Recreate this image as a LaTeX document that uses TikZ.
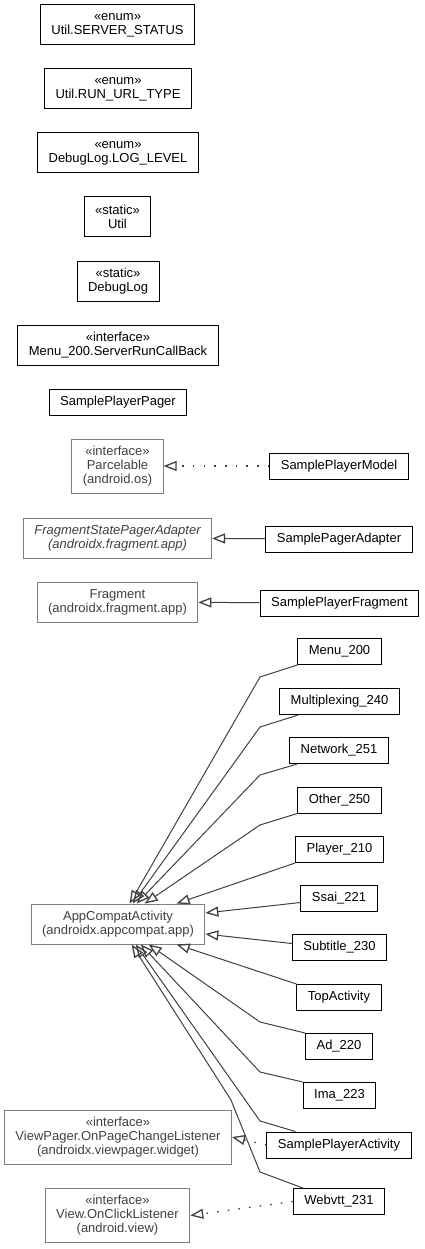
\documentclass[tikz,border=0pt]{standalone}
\usepackage{fontspec}
\setmainfont{Liberation Sans}
\usetikzlibrary{arrows.meta}

\definecolor{extline}{HTML}{808080}
\definecolor{exttext}{HTML}{404040}
\definecolor{edge}{HTML}{404040}

\tikzset{
	cls/.style = {draw, line width = 1pt, align = center, inner xsep = 11pt, inner ysep = 0pt,
		font = \fontsize{13}{14}\selectfont},
	ext/.style = {cls, draw = extline, text = exttext, line width = 0.9pt},
	one/.style = {minimum height = 26pt},
	two/.style = {minimum height = 40pt},
	three/.style = {minimum height = 54pt},
	inherit/.style = {-{Triangle[open,length=13pt,width=10pt,line width=1.3pt]}, draw = edge, line width = 1pt},
	realize/.style = {inherit, line width = 1.3pt, dash pattern = on 1.6pt off 9.1pt},
}

\begin{document}
\begin{tikzpicture}[x = 1pt, y = -1pt]
		\useasboundingbox (0,0) rectangle (424,1249);
		% left column
		\node[cls,two] (sstat) at (117.5, 25){«enum»\\Util.SERVER\_STATUS};
		\node[cls,two] (rtype) at (118, 89){«enum»\\Util.RUN\_URL\_TYPE};
		\node[cls,two] (llevel) at (118, 153){«enum»\\DebugLog.LOG\_LEVEL};
		\node[cls,two] (util) at (117.5, 217){«static»\\Util};
		\node[cls,two] (dlog) at (118, 281){«static»\\DebugLog};
		\node[cls,two] (srcb) at (118, 345){«interface»\\Menu\_200.ServerRunCallBack};
		\node[cls,one] (pager) at (118, 402){SamplePlayerPager};
		\node[ext,three] (parc) at (117.5, 466){«interface»\\Parcelable\\(android.os)};
		\node[ext,two,font = \fontsize{13}{14}\selectfont\itshape] (fspa) at (117.5, 538){FragmentStatePagerAdapter\\(androidx.fragment.app)};
		\node[ext,two] (frag) at (117.5, 602){Fragment\\(androidx.fragment.app)};
		\node[ext,two] (app) at (118, 924){AppCompatActivity\\(androidx.appcompat.app)};
		\node[ext,three] (vpl) at (118, 1137){«interface»\\ViewPager.OnPageChangeListener\\(androidx.viewpager.widget)};
		\node[ext,three] (ocl) at (117.5, 1215.5){«interface»\\View.OnClickListener\\(android.view)};
		% right column
		\node[cls,one] (model) at (339, 466){SamplePlayerModel};
		\node[cls,one] (padapter) at (339, 539){SamplePagerAdapter};
		\node[cls,one] (pfrag) at (339.5, 603){SamplePlayerFragment};
		\node[cls,one] (menu) at (339.5, 651.5){Menu\_200};
		\node[cls,one] (mult) at (339.5, 701.5){Multiplexing\_240};
		\node[cls,one] (net) at (339, 750.5){Network\_251};
		\node[cls,one] (other) at (339.5, 800){Other\_250};
		\node[cls,one] (player) at (339.5, 849.5){Player\_210};
		\node[cls,one] (ssai) at (339, 898.5){Ssai\_221};
		\node[cls,one] (sub) at (339.5, 947.5){Subtitle\_230};
		\node[cls,one] (top) at (339, 997.5){TopActivity};
		\node[cls,one] (ad) at (339, 1046.5){Ad\_220};
		\node[cls,one] (ima) at (339.5, 1095.5){Ima\_223};
		\node[cls,one] (spa) at (339, 1145){SamplePlayerActivity};
		\node[cls,one] (web) at (339, 1201.5){Webvtt\_231};

		\draw[realize] (model) -- (parc);
		\draw[inherit] (padapter) -- (fspa);
		\draw[inherit] (pfrag) -- (frag);
		\draw[realize] (spa.west) -- (vpl.east);
		\draw[realize] (web.west) -- (ocl.east);

		% subclasses of AppCompatActivity
		\draw[inherit] (menu.south west) -- (260,677) -- ([xshift=99pt]app.north west);
		\draw[inherit] ([xshift=19pt]mult.south west) -- (260,727) -- ([xshift=102pt]app.north west);
		\draw[inherit] ([xshift=8pt]net.south west) -- (260,775) -- ([xshift=106pt]app.north west);
		\draw[inherit] (other.south west) -- (260,825) -- ([xshift=114pt]app.north west);
		\draw[inherit] (player.south west) -- ([xshift=146pt]app.north west);
		\draw[inherit] ([yshift=-4pt]ssai.west) -- ([yshift=11pt]app.east);
		\draw[inherit] ([yshift=4pt]sub.west) -- ([yshift=-10pt]app.east);
		\draw[inherit] (top.north west) -- ([xshift=146pt]app.south west);
		\draw[inherit] (ad.north west) -- (260,1022) -- ([xshift=118pt]app.south west);
		\draw[inherit] (ima.north west) -- (260,1072) -- ([xshift=110pt]app.south west);
		\draw[inherit] ([xshift=29pt]spa.north west) -- (260,1121) -- ([xshift=105pt]app.south west);
		\draw[inherit] ([xshift=10pt]web.north west) -- (260,1172) -- (231,1100) -- ([xshift=101pt]app.south west);
\end{tikzpicture}
\end{document}
